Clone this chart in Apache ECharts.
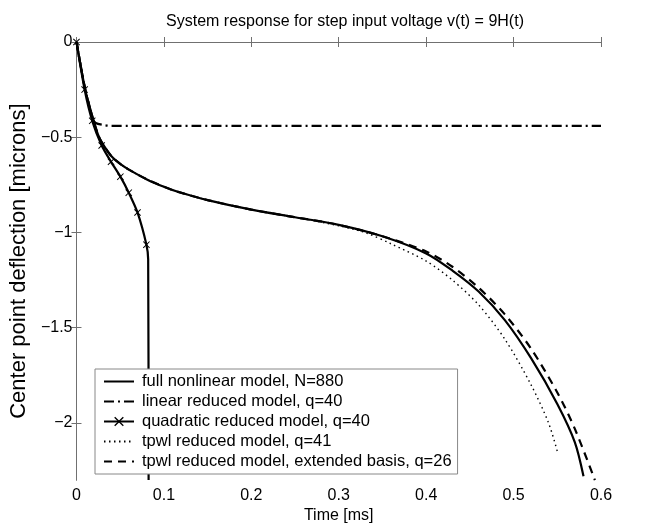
<!DOCTYPE html>
<html><head><meta charset="utf-8">
<script src="https://cdn.jsdelivr.net/npm/echarts@6/dist/echarts.min.js"></script>
<style>html,body{margin:0;padding:0;background:#fff}#c{width:651px;height:529px}</style>
</head><body><div id="c"></div>
<script>
const titleText = 'System response for step input voltage v(t) = 9H(t)';
const xName = 'Time [ms]';
const yName = 'Center point deflection [microns]';
const xTicks = [0, 0.1, 0.2, 0.3, 0.4, 0.5, 0.6];
const yTicks = [0, -0.5, -1, -1.5, -2];

const fullT = [0, 0.005, 0.01, 0.015, 0.02, 0.025, 0.03, 0.04, 0.05, 0.06, 0.08, 0.1, 0.115, 0.15, 0.2, 0.25, 0.3, 0.35, 0.4, 0.43, 0.46, 0.49, 0.52, 0.55, 0.57, 0.58];
const fullY = [0, -0.13, -0.25, -0.34, -0.42, -0.49, -0.535, -0.6, -0.64, -0.67, -0.72, -0.76, -0.785, -0.83, -0.88, -0.92, -0.96, -1.02, -1.11, -1.2, -1.31, -1.46, -1.66, -1.9, -2.1, -2.28];

const linT = [0, 0.005, 0.01, 0.015, 0.018, 0.022, 0.03, 0.04, 0.06, 0.6];
const linY = [0, -0.13, -0.25, -0.34, -0.40, -0.425, -0.435, -0.44, -0.44, -0.44];

const quadT = [0, 0.0093, 0.018, 0.0288, 0.0395, 0.0502, 0.0598, 0.0698, 0.08, 0.082, 0.0825];
const quadY = [0, -0.25, -0.414, -0.543, -0.629, -0.707, -0.791, -0.895, -1.064, -1.14, -2.3];
const quadMarked = [1, 1, 1, 1, 1, 1, 1, 1, 1, 0, 0];

const tpwlT = [0, 0.005, 0.01, 0.015, 0.02, 0.025, 0.03, 0.04, 0.05, 0.06, 0.08, 0.1, 0.115, 0.15, 0.2, 0.25, 0.3, 0.33, 0.36, 0.4, 0.43, 0.46, 0.49, 0.52, 0.54, 0.551];
const tpwlY = [0, -0.13, -0.25, -0.34, -0.42, -0.49, -0.535, -0.6, -0.64, -0.67, -0.72, -0.76, -0.785, -0.83, -0.88, -0.92, -0.965, -1.0, -1.06, -1.15, -1.25, -1.38, -1.56, -1.8, -2.0, -2.165];

const extT = [0, 0.005, 0.01, 0.015, 0.02, 0.025, 0.03, 0.04, 0.05, 0.06, 0.08, 0.1, 0.115, 0.15, 0.2, 0.25, 0.3, 0.35, 0.4, 0.43, 0.46, 0.49, 0.52, 0.55, 0.57, 0.593];
const extY = [0, -0.13, -0.25, -0.34, -0.42, -0.49, -0.535, -0.6, -0.64, -0.67, -0.72, -0.76, -0.785, -0.83, -0.88, -0.92, -0.96, -1.02, -1.1, -1.18, -1.29, -1.43, -1.61, -1.84, -2.03, -2.3];

const names = ['full nonlinear model, N=880', 'linear reduced model, q=40', 'quadratic reduced model, q=40', 'tpwl reduced model, q=41', 'tpwl reduced model, extended basis, q=26'];

const zip = (a, b) => a.map((v, i) => [v, b[i]]);
const FONT = "'Liberation Sans', Arial, Helvetica, sans-serif";
const AX = '#707070';
const xMark = 'path://M0,1L1,0L5,4L9,0L10,1L6,5L10,9L9,10L5,6L1,10L0,9L4,5Z';
const fmt = v => String(v).replace('-', '\u2212');

const chart = echarts.init(document.getElementById('c'), null, {renderer: 'canvas'});
chart.setOption({
  animation: false,
  backgroundColor: '#fff',
  textStyle: {fontFamily: FONT},
  title: {text: titleText, left: 340, textAlign: 'center', top: 9,
    textStyle: {fontFamily: FONT, fontSize: 16, fontWeight: 'normal', color: '#000'}},
  grid: {left: 72, right: 50, top: 42, bottom: 40, containLabel: false},
  legend: {
    orient: 'vertical', left: 95, top: 369, itemWidth: 30, itemHeight: 12, itemGap: 3,
    padding: [4, 6, 4, 8], backgroundColor: '#fff', borderColor: '#888', borderWidth: 1,
    textStyle: {fontFamily: FONT, fontSize: 16.5, color: '#000', padding: [0, 0, 0, 3]},
    data: names.map((n, i) => i === 2 ? {name: n} : {name: n, itemStyle: {opacity: 0}})
  },
  xAxis: [
    {type: 'value', min: 0, max: 0.6, interval: 0.1, position: 'bottom',
      name: xName, nameLocation: 'middle', nameGap: 27,
      nameTextStyle: {fontFamily: FONT, fontSize: 16, color: '#000'},
      axisLine: {lineStyle: {color: AX, width: 1}},
      axisTick: {inside: true, length: 5, lineStyle: {color: AX}},
      axisLabel: {fontFamily: FONT, fontSize: 16, color: '#000', margin: 7, formatter: v => fmt(+v.toFixed(1))},
      splitLine: {show: false}},
    {type: 'value', min: 0, max: 0.6, interval: 0.1, position: 'top',
      axisLine: {lineStyle: {color: AX, width: 1}},
      axisTick: {inside: true, length: 5, lineStyle: {color: AX}},
      axisLabel: {show: false}, splitLine: {show: false}}
  ],
  yAxis: [
    {type: 'value', min: -2.3, max: 0, position: 'left',
      name: yName, nameLocation: 'middle', nameGap: 38, nameRotate: 90,
      nameTextStyle: {fontFamily: FONT, fontSize: 22, color: '#000'},
      axisLine: {lineStyle: {color: AX, width: 1}},
      axisTick: {inside: true, length: 5, lineStyle: {color: AX}, customValues: yTicks},
      axisLabel: {fontFamily: FONT, fontSize: 16, color: '#000', margin: 4, customValues: yTicks, formatter: v => fmt(v)},
      splitLine: {show: false}},
    {type: 'value', min: -2.3, max: 0, position: 'right',
      axisLine: {lineStyle: {color: AX, width: 1}},
      axisTick: {inside: true, length: 5, lineStyle: {color: AX}, customValues: yTicks},
      axisLabel: {show: false}, splitLine: {show: false}}
  ],
  series: [
    {name: names[0], type: 'line', data: zip(fullT, fullY), showSymbol: false, symbol: 'none', smooth: 0.3,
      lineStyle: {color: '#000', width: 2.2, type: 'solid'}, itemStyle: {color: '#000'}, z: 5},
    {name: names[1], type: 'line', data: zip(linT, linY), showSymbol: false, symbol: 'none', smooth: 0.3,
      lineStyle: {color: '#000', width: 2.2, type: [10, 4, 2, 4]}, itemStyle: {color: '#000'}},
    {name: names[2], type: 'line', smooth: 0.2,
      data: quadT.map((t, i) => ({value: [t, quadY[i]], symbol: quadMarked[i] ? xMark : 'none'})),
      symbol: xMark, symbolSize: 7, showSymbol: true,
      lineStyle: {color: '#000', width: 2.2}, itemStyle: {color: '#000'}},
    {name: names[3], type: 'line', data: zip(tpwlT, tpwlY), showSymbol: false, symbol: 'none', smooth: 0.3,
      lineStyle: {color: '#000', width: 1.4, type: [1.5, 3.5]}, itemStyle: {color: '#000'}},
    {name: names[4], type: 'line', data: zip(extT, extY), showSymbol: false, symbol: 'none', smooth: 0.3,
      lineStyle: {color: '#000', width: 2.2, type: [8, 6]}, itemStyle: {color: '#000'}}
  ]
});
</script></body></html>
